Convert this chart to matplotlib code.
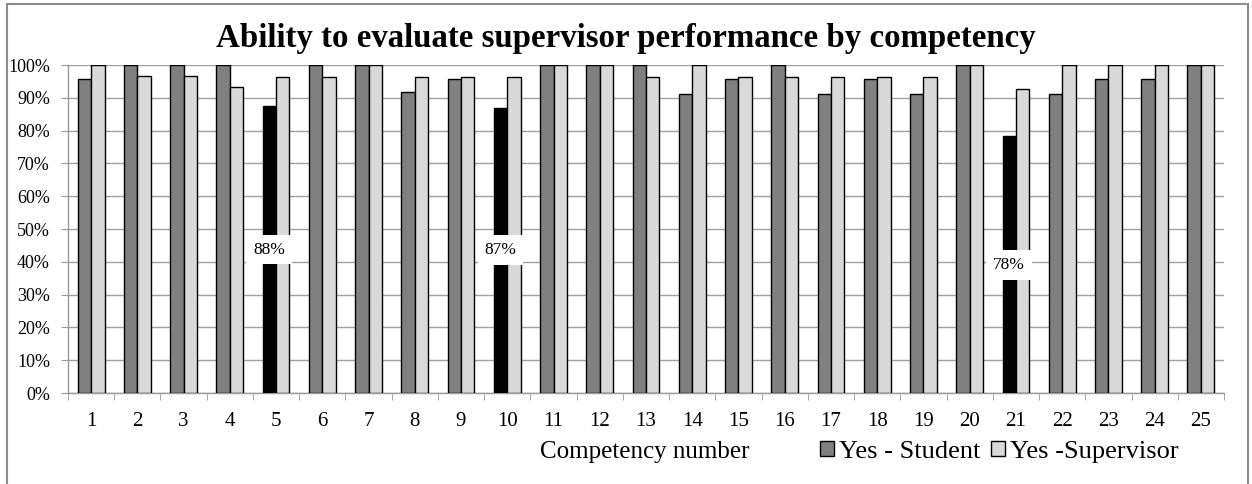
import matplotlib
matplotlib.use("Agg")
import matplotlib.pyplot as plt
from matplotlib.patches import Rectangle
import numpy as np

competencies = [str(i) for i in range(1, 26)]
student = [95.8, 100, 100, 100, 87.5, 100, 100, 91.7, 95.8, 86.96,
           100, 100, 100, 91.3, 95.8, 100, 91.3, 95.8, 91.3, 100,
           78.26, 91.3, 95.8, 95.8, 100]
supervisor = [100, 96.7, 96.7, 93.3, 96.3, 96.3, 100, 96.3, 96.3, 96.3,
              100, 100, 96.3, 100, 96.3, 96.3, 96.3, 96.3, 96.3, 100,
              92.6, 100, 100, 100, 100]
highlight = {5: "88%", 10: "87%", 21: "78%"}
y_ticks = [0, 10, 20, 30, 40, 50, 60, 70, 80, 90, 100]
y_tick_labels = [f"{v}%" for v in y_ticks]

title = "Ability to evaluate supervisor performance by competency"
xlabel = "Competency number"
legend_labels = ["Yes - Student", "Yes -Supervisor"]

plt.rcParams['font.family'] = ['Liberation Serif', 'DejaVu Serif']

W, H = 1252, 484
fig = plt.figure(figsize=(W / 100, H / 100), dpi=100)
ax = fig.add_axes([68 / W, 1 - 393 / H, (1224 - 68) / W, (393 - 65) / H])

x = np.arange(1, len(competencies) + 1)
bw = 0.29
s_colors = ['black' if (i + 1) in highlight else '#808080' for i in range(len(x))]
b1 = ax.bar(x - bw / 2, student, width=bw, color=s_colors, edgecolor='black',
            linewidth=1.0, zorder=3, label=legend_labels[0])
b2 = ax.bar(x + bw / 2, supervisor, width=bw, color='#d9d9d9', edgecolor='black',
            linewidth=1.0, zorder=3, label=legend_labels[1])

for i, rect in enumerate(b1):
    n = i + 1
    if n in highlight:
        ax.text(rect.get_x() + rect.get_width() / 2, student[i] / 2, highlight[n],
                ha='center', va='center', fontsize=12.5, zorder=5,
                bbox=dict(boxstyle='square,pad=0.4', fc='white', ec='none'))

ax.set_xlim(0.5, len(x) + 0.5)
ax.set_ylim(0, 100)
ax.set_yticks(y_ticks)
ax.set_yticklabels(y_tick_labels, fontsize=13)
ax.set_xticks(x)
ax.set_xticklabels(competencies, fontsize=15)
ax.set_xticks(np.arange(0.5, len(x) + 1.0, 1.0), minor=True)
ax.tick_params(axis='x', which='major', length=0, pad=14)
ax.tick_params(axis='x', which='minor', length=5, color='#999999', direction='out')
ax.tick_params(axis='y', which='major', length=5, color='#999999', pad=8)
ax.yaxis.grid(True, color='#a0a0a0', linewidth=1.0, zorder=0)
ax.set_axisbelow(True)
for side in ['top', 'right']:
    ax.spines[side].set_visible(False)
for side in ['left', 'bottom']:
    ax.spines[side].set_color('#999999')
    ax.spines[side].set_linewidth(1.0)

fig.text(626 / W, 1 - 47 / H, title, ha='center', va='baseline',
         fontsize=23.7, fontweight='bold')
fig.text(645 / W, 1 - 452 / H, xlabel, ha='center', va='center', fontsize=18)

leg = fig.legend(handles=[b1[0], b2[0]], labels=legend_labels, loc='center left',
                 bbox_to_anchor=(820 / W, 1 - 452 / H), ncol=2, frameon=False,
                 fontsize=19, handlelength=0.53, handleheight=0.53,
                 handletextpad=0.19, columnspacing=0.42, borderpad=0, borderaxespad=0)
leg.legend_handles[0].set_facecolor('#808080')

fig.patches.append(Rectangle((7 / W, -0.05), (1248 - 7) / W, 1 - 4 / H + 0.05,
                             transform=fig.transFigure, fill=False,
                             edgecolor='#8c8c8c', linewidth=1.5))

fig.savefig("out.png", dpi=100)
